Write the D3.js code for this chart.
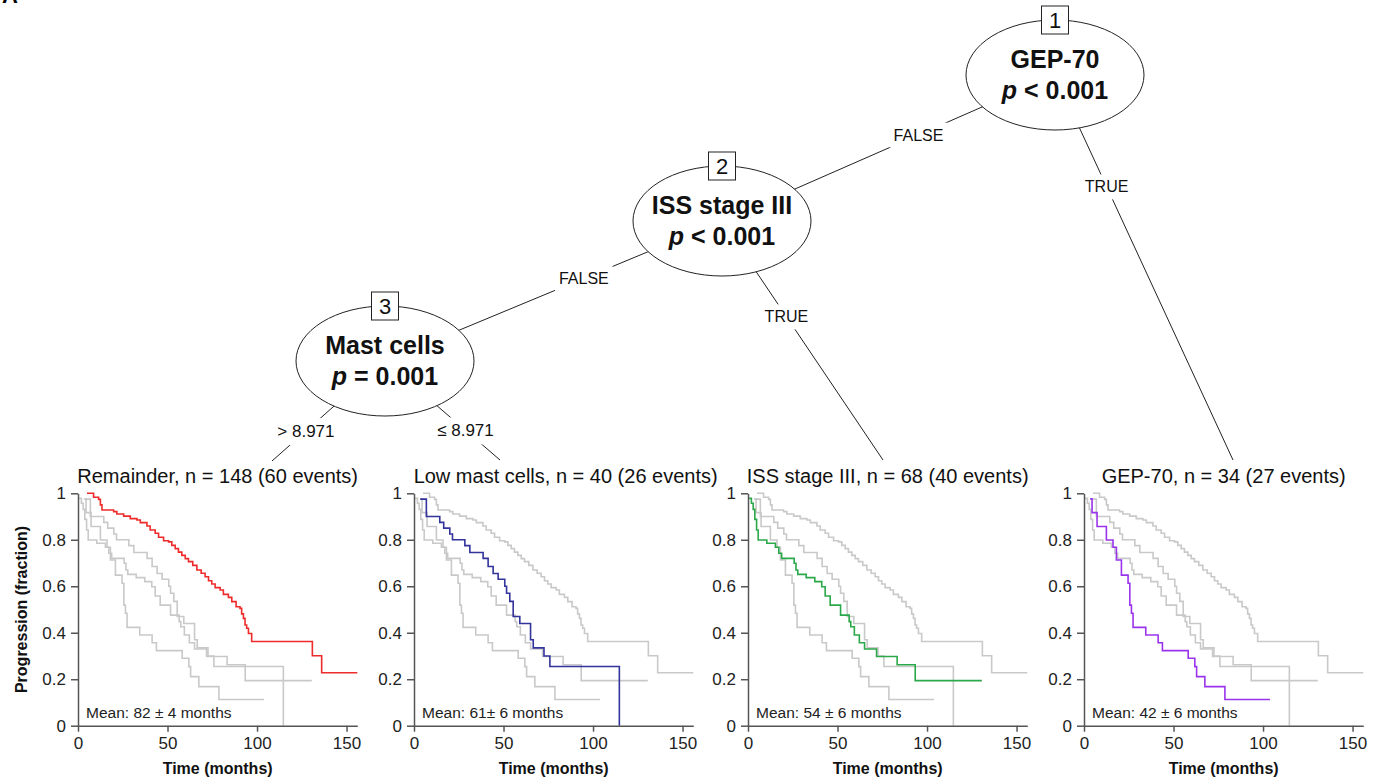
<!DOCTYPE html>
<html lang="en">
<head>
<meta charset="UTF-8">
<title>Survival tree with Kaplan-Meier panels</title>
<style>
html,
body {
  margin: 0;
  padding: 0;
  background: #fff;
}

svg {
  display: block;
  font-family: 'Liberation Sans', Arial, sans-serif;
}

.axis path,
.axis line {
  stroke: #555;
  stroke-width: 1.5;
}

.axis text {
  font-family: 'Liberation Sans', Arial, sans-serif;
  font-size: 17px;
  fill: #222;
}

.edge {
  stroke: #222;
  stroke-width: 1;
}

.node {
  fill: #fff;
  stroke: #222;
  stroke-width: 1;
}
</style>
</head>
<body>
<svg width="1382" height="780"></svg>
<script src="https://cdnjs.cloudflare.com/ajax/libs/d3/7.8.5/d3.min.js"></script>
<script>
// ---- data ----
const xTicks = [0, 50, 100, 150];
const yTicks = [0, 0.2, 0.4, 0.6, 0.8, 1];

const groupNames = ['Remainder', 'Low mast cells', 'ISS stage III', 'GEP-70'];
const groupN = [148, 40, 68, 34];
const groupEvents = [60, 26, 40, 27];
const groupMean = ['82 ± 4', '61± 6', '54 ± 6', '42 ± 6'];
const groupColors = ['#ee2b2b', '#33339c', '#2ba84a', '#9a34ec'];

// Kaplan-Meier steps: time of drop, survival after drop; last value held to end
const remainderTime = [5, 8.7, 11.5, 12.5, 13.4, 19.9, 21.7, 25.5, 29.2, 32.9, 34.8, 38.5, 40.3, 43.1, 45,
  47.8, 50.6, 52.4, 54.3, 56.1, 58, 59.9, 61.7, 64.1, 66.4, 68.8, 71, 72.9, 74.7, 76.6, 79.4, 81.2, 84,
  85.9, 88.3, 90.5, 91.4, 92.4, 93.3, 94.2, 95.2, 97, 130.9, 136.1];
const remainderSurv = [1, 0.983, 0.974, 0.95, 0.928, 0.921, 0.911, 0.902, 0.891, 0.885, 0.874, 0.859, 0.842,
  0.828, 0.811, 0.796, 0.791, 0.776, 0.762, 0.747, 0.733, 0.719, 0.706, 0.69, 0.67, 0.656, 0.641, 0.624,
  0.61, 0.594, 0.584, 0.565, 0.552, 0.534, 0.512, 0.505, 0.481, 0.462, 0.433, 0.419, 0.397, 0.362, 0.301, 0.228];
const remainderEnd = 156;

const lowMastTime = [3.5, 6.9, 14.4, 16.6, 20, 21.5, 28.4, 31.2, 38.6, 41.4, 44.2, 47, 50.7, 51.7, 53.5,
  55.4, 59.1, 65.1, 66.6, 72.6, 75.9, 114.7];
const lowMastSurv = [0.975, 0.9, 0.875, 0.85, 0.825, 0.8, 0.775, 0.745, 0.72, 0.685, 0.655, 0.63, 0.6, 0.57,
  0.535, 0.47, 0.44, 0.37, 0.335, 0.3, 0.255, 0];
const lowMastEnd = 114.7;

const issTime = [0.6, 1.9, 2.9, 3.8, 4.8, 5.7, 10.5, 15.3, 17.2, 18.8, 25.8, 26.8, 27.8, 32.5, 37.3, 41.2,
  43.1, 45.9, 51.7, 56.5, 57.4, 59.4, 62.2, 65.1, 71.8, 83.3, 93.4];
const issSurv = [0.978, 0.957, 0.931, 0.888, 0.842, 0.799, 0.785, 0.768, 0.742, 0.72, 0.699, 0.67, 0.651,
  0.637, 0.62, 0.598, 0.558, 0.519, 0.476, 0.448, 0.426, 0.39, 0.357, 0.33, 0.298, 0.262, 0.194];
const issEnd = 130.6;

const gepTime = [3.5, 4.5, 7.3, 12.5, 16.2, 18.1, 20.9, 24.6, 25.6, 26.5, 27.4, 34.5, 41.4, 43.8, 58.2,
  61.9, 62.9, 67.5, 78.7];
const gepSurv = [0.976, 0.917, 0.857, 0.799, 0.768, 0.713, 0.648, 0.613, 0.519, 0.484, 0.423, 0.39, 0.357,
  0.323, 0.29, 0.254, 0.211, 0.168, 0.113];
const gepEnd = 103.9;

// tree
const nodeIds = [1, 2, 3];
const nodeVars = ['GEP-70', 'ISS stage III', 'Mast cells'];
const nodeP = ['< 0.001', '< 0.001', '= 0.001'];
// edges: parent node index -> child ('n' node / 'l' leaf panel)
const edgeFrom = [0, 0, 1, 1, 2, 2];
const edgeTo = ['n1', 'l3', 'n2', 'l2', 'l0', 'l1'];
const edgeLabels = ['FALSE', 'TRUE', 'FALSE', 'TRUE', '> 8.971', '≤ 8.971'];

// ---- layout ----
const nodePos = [[1055, 75], [722, 221], [385, 361]];
const nodeRx = 89, nodeRy = 55;
const leafPos = [[272, 461], [500, 460], [883, 460], [1233, 460]];
const edgeLabelAt = [0.41, 0.29, 0.41, 0.4, 0.7, 0.7];

const panelLeft = [78, 414, 748, 1084];
const panelW = 279.3; // 0..156 months
const yTop = 493.3, yBottom = 725.7;
const titleShift = [0, 12, 0, 0];

const svg = d3.select('svg');

const curves = [
  {t: remainderTime, s: remainderSurv, end: remainderEnd},
  {t: lowMastTime, s: lowMastSurv, end: lowMastEnd},
  {t: issTime, s: issSurv, end: issEnd},
  {t: gepTime, s: gepSurv, end: gepEnd}
].map(function (c) {
  const pts = c.t.map(function (t, i) { return [t, c.s[i]]; });
  pts.push([c.end, c.s[c.s.length - 1]]);
  return pts;
});

const y = d3.scaleLinear().domain([0, 1]).range([yBottom, yTop]);

// panel letter, mostly cut off at the top edge (as in the source figure)
svg.append('text')
  .attr('x', 2)
  .attr('y', 3)
  .attr('font-size', 22)
  .attr('font-weight', 'bold')
  .text('A');

panelLeft.forEach(function (x0, p) {
  const x = d3.scaleLinear().domain([0, 156]).range([x0, x0 + panelW]);
  const g = svg.append('g').attr('class', 'panel');

  const line = d3.line()
    .x(function (d) { return x(d[0]); })
    .y(function (d) { return y(d[1]); })
    .curve(d3.curveStepAfter);

  // other groups in grey, own group on top in colour
  curves.forEach(function (pts, i) {
    if (i === p) return;
    g.append('path')
      .datum(pts)
      .attr('fill', 'none')
      .attr('stroke', '#c9c9c9')
      .attr('stroke-width', 1.6)
      .attr('d', line);
  });
  g.append('path')
    .datum(curves[p])
    .attr('fill', 'none')
    .attr('stroke', groupColors[p])
    .attr('stroke-width', 1.6)
    .attr('d', line);

  g.append('g')
    .attr('class', 'axis')
    .attr('transform', 'translate(0,' + yBottom + ')')
    .call(d3.axisBottom(x).tickValues(xTicks).tickSize(6).tickSizeOuter(0).tickPadding(5));

  g.append('g')
    .attr('class', 'axis')
    .attr('transform', 'translate(' + x0 + ',0)')
    .call(d3.axisLeft(y).tickValues(yTicks).tickFormat(function (d) { return String(d); })
      .tickSize(7).tickSizeOuter(0).tickPadding(5));

  g.append('text')
    .attr('x', x0 + panelW / 2 + titleShift[p])
    .attr('y', 483)
    .attr('text-anchor', 'middle')
    .attr('font-size', 20)
    .attr('fill', '#111')
    .text(groupNames[p] + ', n = ' + groupN[p] + ' (' + groupEvents[p] + ' events)');

  g.append('text')
    .attr('x', x0 + 8)
    .attr('y', 718)
    .attr('font-size', 15.5)
    .attr('fill', '#222')
    .text('Mean: ' + groupMean[p] + ' months');

  g.append('text')
    .attr('x', x0 + panelW / 2)
    .attr('y', 774)
    .attr('text-anchor', 'middle')
    .attr('font-size', 16)
    .attr('font-weight', 'bold')
    .attr('fill', '#111')
    .text('Time (months)');
});

svg.append('text')
  .attr('transform', 'translate(27,' + (yTop + yBottom) / 2 + ') rotate(-90)')
  .attr('text-anchor', 'middle')
  .attr('font-size', 16)
  .attr('font-weight', 'bold')
  .attr('fill', '#111')
  .text('Progression (fraction)');

// ---- tree ----
const tree = svg.append('g').attr('class', 'tree');

const edges = edgeFrom.map(function (f, i) {
  const to = edgeTo[i];
  const target = to[0] === 'n' ? nodePos[+to.slice(1)] : leafPos[+to.slice(1)];
  return {a: nodePos[f], b: target, label: edgeLabels[i], at: edgeLabelAt[i]};
});

tree.selectAll('line.edge')
  .data(edges)
  .enter()
  .append('line')
  .attr('class', 'edge')
  .attr('x1', function (d) { return d.a[0]; })
  .attr('y1', function (d) { return d.a[1]; })
  .attr('x2', function (d) { return d.b[0]; })
  .attr('y2', function (d) { return d.b[1]; });

tree.selectAll('ellipse')
  .data(nodePos)
  .enter()
  .append('ellipse')
  .attr('class', 'node')
  .attr('cx', function (d) { return d[0]; })
  .attr('cy', function (d) { return d[1]; })
  .attr('rx', nodeRx)
  .attr('ry', nodeRy);

nodePos.forEach(function (c, i) {
  tree.append('rect')
    .attr('x', c[0] - 13.5)
    .attr('y', c[1] - nodeRy - 14)
    .attr('width', 27)
    .attr('height', 28)
    .attr('fill', '#fff')
    .attr('stroke', '#222')
    .attr('stroke-width', 1);
  tree.append('text')
    .attr('x', c[0])
    .attr('y', c[1] - nodeRy + 8)
    .attr('text-anchor', 'middle')
    .attr('font-size', 22)
    .attr('fill', '#111')
    .text(nodeIds[i]);
  tree.append('text')
    .attr('x', c[0])
    .attr('y', c[1] - 7)
    .attr('text-anchor', 'middle')
    .attr('font-size', 25)
    .attr('font-weight', 'bold')
    .attr('fill', '#111')
    .text(nodeVars[i]);
  const pt = tree.append('text')
    .attr('x', c[0])
    .attr('y', c[1] + 24)
    .attr('text-anchor', 'middle')
    .attr('font-size', 25)
    .attr('font-weight', 'bold')
    .attr('fill', '#111');
  pt.append('tspan').attr('font-style', 'italic').text('p');
  pt.append('tspan').text(' ' + nodeP[i]);
});

edges.forEach(function (e) {
  const lx = e.a[0] + (e.b[0] - e.a[0]) * e.at;
  const ly = e.a[1] + (e.b[1] - e.a[1]) * e.at;
  const bg = tree.append('rect').attr('fill', '#fff');
  const t = tree.append('text')
    .attr('x', lx)
    .attr('y', ly)
    .attr('dy', '0.36em')
    .attr('text-anchor', 'middle')
    .attr('font-size', e.label.length > 5 ? 17 : 16)
    .attr('fill', '#111')
    .text(e.label);
  const bb = t.node().getBBox();
  bg.attr('x', bb.x - 4).attr('y', bb.y - 4)
    .attr('width', bb.width + 8).attr('height', bb.height + 8);
});
</script>
</body>
</html>
